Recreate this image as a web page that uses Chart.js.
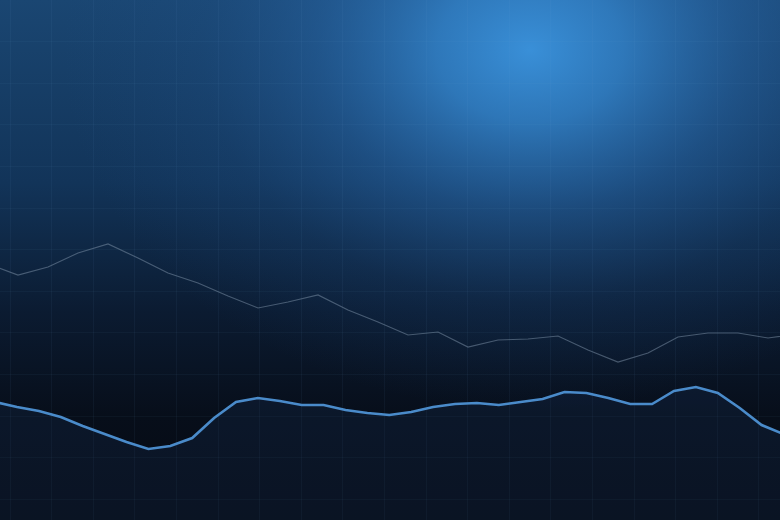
<!DOCTYPE html>
<html>
<head>
<meta charset="utf-8">
<script src="https://cdn.jsdelivr.net/npm/chart.js@4.4.1/dist/chart.umd.min.js"></script>
<style>
  html, body { margin: 0; padding: 0; background: #060a12; }
  #wrap { width: 780px; height: 520px; position: relative; }
</style>
</head>
<body>
<div id="wrap"><canvas id="c" width="780" height="520"></canvas></div>
<script>
// Upper (faint grey) series, one value per period
const upperValues = [25.6, 24.5, 25.3, 26.7, 27.6, 26.2, 24.7, 23.7, 22.4, 21.2, 21.8, 22.5, 21.0, 19.8,
  18.5, 18.8, 17.3, 18.0, 18.1, 18.4, 17.0, 15.8, 16.7, 18.3, 18.7, 18.7, 18.2, 18.6];
// Lower (bright blue) series, one value per period
const lowerValues = [11.8, 11.3, 10.9, 10.3, 9.4, 8.6, 7.8, 7.1, 7.4, 8.2, 10.2, 11.8, 12.2, 11.9, 11.5,
  11.5, 11.0, 10.7, 10.5, 10.8, 11.3, 11.6, 11.7, 11.5, 11.8, 12.1, 12.8, 12.7, 12.2, 11.6, 11.6, 12.9,
  13.3, 12.7, 11.2, 9.5, 8.6];
// Grid columns / rows (no labels shown)
const gridColumns = [0, 1, 2, 3, 4, 5, 6, 7, 8, 9, 10, 11, 12, 13, 14, 15, 16, 17, 18];
const gridRows = [47.84, 43.68, 39.52, 35.36, 31.2, 27.04, 22.88, 18.72, 14.56, 10.4, 6.24, 2.08];

const bgPlugin = {
  id: 'bg',
  beforeDraw(chart) {
    const { ctx, width, height } = chart;
    ctx.save();
    const lg = ctx.createLinearGradient(0, 0, 0, height);
    lg.addColorStop(0, '#1a4672');
    lg.addColorStop(0.35, '#123459');
    lg.addColorStop(0.6, '#0b1b31');
    lg.addColorStop(0.8, '#070e1a');
    lg.addColorStop(1, '#060a12');
    ctx.fillStyle = lg;
    ctx.fillRect(0, 0, width, height);
    // glow
    ctx.save();
    ctx.translate(530, 50);
    ctx.scale(1.3, 1);
    const rg = ctx.createRadialGradient(0, 0, 0, 0, 0, 360);
    rg.addColorStop(0, 'rgba(60,150,225,0.92)');
    rg.addColorStop(0.2, 'rgba(54,138,212,0.75)');
    rg.addColorStop(0.45, 'rgba(44,112,182,0.42)');
    rg.addColorStop(0.7, 'rgba(36,92,155,0.16)');
    rg.addColorStop(1, 'rgba(30,80,140,0)');
    ctx.fillStyle = rg;
    ctx.fillRect(-700, -300, 1400, 800);
    ctx.restore();
    ctx.restore();
  }
};

new Chart(document.getElementById('c'), {
  type: 'line',
  data: {
    datasets: [
      {
        label: 'Upper',
        data: upperValues.map((v, i) => ({ x: i, y: v })),
        xAxisID: 'xHigh',
        borderColor: 'rgba(130,150,172,0.5)',
        borderWidth: 1.2,
        pointRadius: 0,
        tension: 0,
        fill: false
      },
      {
        label: 'Lower',
        data: lowerValues.map((v, i) => ({ x: i, y: v })),
        xAxisID: 'xLow',
        borderColor: '#4a8bca',
        borderWidth: 2.6,
        pointRadius: 0,
        tension: 0,
        fill: 'start',
        backgroundColor: 'rgba(28,62,105,0.2)'
      }
    ]
  },
  options: {
    responsive: false,
    animation: false,
    events: [],
    layout: { padding: 0 },
    plugins: { legend: { display: false }, tooltip: { enabled: false } },
    scales: {
      xHigh: { type: 'linear', display: false, min: 0.4, max: 26.4 },
      xLow: { type: 'linear', display: false, min: 0.2237, max: 35.84 },
      xGrid: {
        type: 'linear', position: 'bottom', min: -0.2404, max: 18.5096,
        afterBuildTicks: axis => { axis.ticks = gridColumns.map(v => ({ value: v })); },
        ticks: { display: false },
        grid: { color: 'rgba(120,170,225,0.06)', lineWidth: 1, drawTicks: false },
        border: { display: false }
      },
      y: {
        type: 'linear', min: 0, max: 52,
        afterBuildTicks: axis => { axis.ticks = gridRows.map(v => ({ value: v })); },
        ticks: { display: false },
        grid: { color: 'rgba(120,170,225,0.05)', lineWidth: 1, drawTicks: false },
        border: { display: false }
      }
    }
  },
  plugins: [bgPlugin]
});
</script>
</body>
</html>
